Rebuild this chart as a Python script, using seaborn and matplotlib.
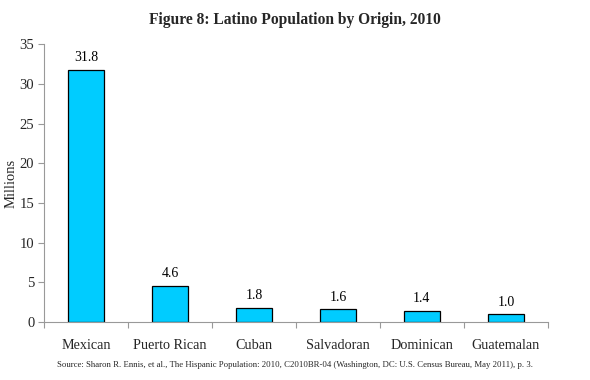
import matplotlib
matplotlib.use("Agg")
import matplotlib.pyplot as plt
import seaborn as sns
import pandas as pd
import numpy as np

categories = ["Mexican", "Puerto Rican", "Cuban", "Salvadoran", "Dominican", "Guatemalan"]
values = [31.8, 4.6, 1.8, 1.6, 1.4, 1.0]
labels = ["31.8", "4.6", "1.8", "1.6", "1.4", "1.0"]
yticks = [0, 5, 10, 15, 20, 25, 30, 35]

sns.set_theme(style="white")
plt.rcParams['font.family'] = ['Liberation Serif', 'DejaVu Serif']

df = pd.DataFrame({"origin": categories, "millions": values})

fig = plt.figure(figsize=(5.9, 3.8), dpi=100)
ax = fig.add_axes([0.0746, 0.1526, 0.854, 0.731])
sns.barplot(data=df, x="origin", y="millions", ax=ax, color="#00CCFF",
            edgecolor="black", linewidth=0.9, width=0.42, saturation=1)

for i, (v, t) in enumerate(zip(values, labels)):
    ax.text(i, v + 0.7, t, ha="center", va="bottom", fontsize=10, color="black")

ax.set_xlim(-0.5, len(categories) - 0.5)
ax.set_ylim(0, 35)
ax.set_yticks(yticks)
ax.set_yticklabels([str(t) for t in yticks], fontsize=10.5)
ax.set_xticks(range(len(categories)))
ax.set_xticklabels(categories, fontsize=10.2)
ax.set_xticks(np.arange(-0.5, len(categories), 1.0), minor=True)
ax.tick_params(axis="x", which="major", length=0, pad=12)
ax.tick_params(axis="x", which="minor", length=4, color="#999999", width=0.8, bottom=True)
ax.tick_params(axis="y", which="major", length=4, color="#999999", width=0.8, left=True, pad=3)
ax.set_xlabel("")
ax.set_ylabel("Millions", fontsize=10.5)
ax.yaxis.set_label_coords(-0.052, 0.5, transform=ax.transAxes)

for s in ["top", "right"]:
    ax.spines[s].set_visible(False)
for s in ["left", "bottom"]:
    ax.spines[s].set_color("#999999")
    ax.spines[s].set_linewidth(0.8)

fig.text(0.5, 0.948, "Figure 8: Latino Population by Origin, 2010", ha="center",
         va="center", fontsize=11.2, fontweight="bold")
fig.text(0.5, 0.04, "Source: Sharon R. Ennis, et al., The Hispanic Population: 2010, C2010BR-04 (Washington, DC: U.S. Census Bureau, May 2011), p. 3.",
         ha="center", va="center", fontsize=6.35)

fig.savefig("out.png", dpi=100)
